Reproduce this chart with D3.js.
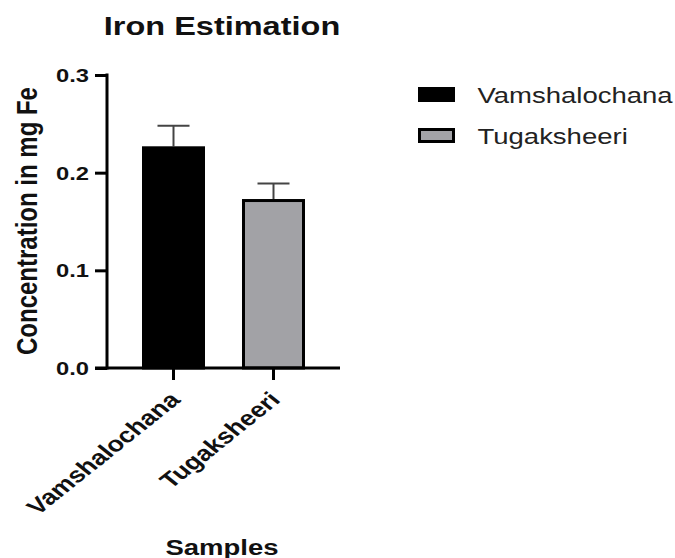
<!DOCTYPE html>
<html>
<head>
  <script src="https://cdn.jsdelivr.net/npm/d3@7"></script>
  <style>
    body { margin: 0; background: #fff; }
    text { font-family: "Liberation Sans", Arial, sans-serif; }
  </style>
</head>
<body>
  <script>
    var width = 675, height = 558;

    // data
    var samples = ["Vamshalochana", "Tugaksheeri"];
    var means = [0.227, 0.173];
    var errors = [0.021, 0.016];
    var fills = ["#000000", "#a2a2a6"];
    var yTicks = [0.0, 0.1, 0.2, 0.3];

    // the source picture is stretched sideways, so text is too
    var sx = 1.25;

    var svg = d3.select("body")
      .append("svg")
      .attr("width", width)
      .attr("height", height);

    var plotLeft = 107, plotRight = 340, plotTop = 75, plotBottom = 368;

    var x = d3.scaleBand()
      .domain(samples)
      .range([plotLeft, plotRight])
      .paddingInner(0.37)
      .paddingOuter(0.35);

    var y = d3.scaleLinear()
      .domain([0, 0.3])
      .range([plotBottom, plotTop]);

    // bars with error bars
    var bars = svg.append("g")
      .selectAll("g")
      .data(samples)
      .enter().append("g");

    bars.append("line")
      .attr("x1", d => x(d) + x.bandwidth() / 2)
      .attr("x2", d => x(d) + x.bandwidth() / 2)
      .attr("y1", (d, i) => y(means[i]))
      .attr("y2", (d, i) => y(means[i] + errors[i]))
      .attr("stroke", "#444")
      .attr("stroke-width", 2);

    bars.append("line")
      .attr("x1", d => x(d) + x.bandwidth() / 2 - 16)
      .attr("x2", d => x(d) + x.bandwidth() / 2 + 16)
      .attr("y1", (d, i) => y(means[i] + errors[i]))
      .attr("y2", (d, i) => y(means[i] + errors[i]))
      .attr("stroke", "#444")
      .attr("stroke-width", 2);

    bars.append("rect")
      .attr("x", d => x(d) + 1.5)
      .attr("width", x.bandwidth() - 3)
      .attr("y", (d, i) => y(means[i]) + 1.5)
      .attr("height", (d, i) => plotBottom - y(means[i]) - 1.5)
      .attr("fill", (d, i) => fills[i])
      .attr("stroke", "#000")
      .attr("stroke-width", 3);

    // y axis
    var yAxis = svg.append("g")
      .attr("transform", "translate(" + plotLeft + ",0)")
      .call(d3.axisLeft(y).tickValues(yTicks).tickFormat(d3.format(".1f")).tickSize(12).tickSizeOuter(0));
    yAxis.select(".domain").attr("stroke-width", 3).attr("d", "M0," + (plotTop - 1.5) + "V" + (plotBottom + 1.5));
    yAxis.selectAll(".tick line").attr("stroke-width", 3);
    yAxis.selectAll(".tick text")
      .attr("x", 0)
      .attr("dy", "0.35em")
      .attr("transform", "translate(-18,0) scale(" + sx + ",1)")
      .style("font-size", "19px")
      .style("font-weight", "bold")
      .style("fill", "#111");

    // x axis
    var xAxis = svg.append("g")
      .attr("transform", "translate(0," + plotBottom + ")")
      .call(d3.axisBottom(x).tickSize(12).tickSizeOuter(0));
    xAxis.select(".domain").attr("stroke-width", 3).attr("d", "M" + (plotLeft - 12) + ",0H" + plotRight);
    xAxis.selectAll(".tick line").attr("stroke-width", 3);
    xAxis.selectAll(".tick text")
      .attr("y", 0)
      .attr("dy", 0)
      .attr("text-anchor", "end")
      .attr("transform", "translate(8,33) scale(" + sx + ",1) rotate(-45)")
      .style("font-size", "21.5px")
      .style("font-weight", "bold")
      .style("fill", "#111");

    // titles
    svg.append("text")
      .attr("transform", "translate(222,35) scale(" + sx + ",1)")
      .attr("text-anchor", "middle")
      .style("font-size", "26px")
      .style("font-weight", "bold")
      .style("fill", "#111")
      .text("Iron Estimation");

    svg.append("text")
      .attr("transform", "translate(37,221) scale(" + sx + ",1) rotate(-90)")
      .attr("text-anchor", "middle")
      .style("font-size", "24px")
      .style("font-weight", "bold")
      .style("fill", "#111")
      .text("Concentration in mg Fe");

    svg.append("text")
      .attr("transform", "translate(222,555) scale(" + sx + ",1)")
      .attr("text-anchor", "middle")
      .style("font-size", "22px")
      .style("font-weight", "bold")
      .style("fill", "#111")
      .text("Samples");

    // legend
    var legend = svg.append("g")
      .selectAll("g")
      .data(samples)
      .enter().append("g")
      .attr("transform", (d, i) => "translate(419.5," + (88.5 + i * 41) + ")");

    legend.append("rect")
      .attr("width", 34)
      .attr("height", 12)
      .attr("fill", (d, i) => fills[i])
      .attr("stroke", "#000")
      .attr("stroke-width", 3);

    legend.append("text")
      .attr("transform", "translate(58,14) scale(" + sx + ",1)")
      .style("font-size", "22px")
      .style("fill", "#222")
      .text(d => d);
  </script>
</body>
</html>
